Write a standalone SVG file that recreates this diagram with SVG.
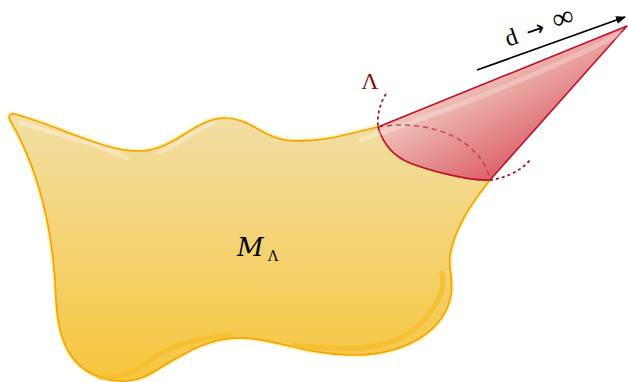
<svg xmlns="http://www.w3.org/2000/svg" width="628" height="382" viewBox="0 0 628 382">
<defs>
<linearGradient id="gy" x1="0" y1="0" x2="0" y2="1" gradientUnits="objectBoundingBox">
<stop offset="0" stop-color="#f2dfa6"/>
<stop offset="1" stop-color="#f6c63e"/>
</linearGradient>
<linearGradient id="gr" x1="450" y1="95" x2="500" y2="185" gradientUnits="userSpaceOnUse">
<stop offset="0" stop-color="#eec0b6"/>
<stop offset="1" stop-color="#db5864"/>
</linearGradient>
<marker id="ah" markerWidth="10" markerHeight="8" refX="9" refY="4" orient="auto" markerUnits="userSpaceOnUse">
<path d="M0,0 L10,4 L0,8 Z" fill="#000"/>
</marker>
<style>
.glow{fill:none;stroke:#fff3a8;stroke-width:5;stroke-linejoin:round;opacity:0.8}
.blob{fill:url(#gy);stroke:#f5a100;stroke-width:1.6;stroke-linejoin:round}
.hlw{fill:none;stroke:#ffffff;stroke-width:4;stroke-linecap:round;opacity:0.3}
.hly{fill:none;stroke:#f5bd2a;stroke-width:5;stroke-linecap:round;opacity:0.8}
.cone{fill:url(#gr);stroke:#c0122c;stroke-width:1.6;stroke-linejoin:round}
.dot{fill:none;stroke:#a8102a;stroke-width:1.8;stroke-dasharray:3,3}
.dash{fill:none;stroke:#b5283e;stroke-width:1.4;stroke-dasharray:5,4;opacity:0.8}
.lbl{font-family:"DejaVu Serif","Liberation Serif",serif}
.lbl2{font-family:"Liberation Serif","DejaVu Serif",serif}
</style>
</defs>
<g id="manifold">
<path class="glow" d="M 14,114 C 60,126 105,152 140,151 C 175,150 195,118 225,118 C 250,118 262,137 285,140 C 320,144 350,133 378,127 M 490,180 C 470,205 455,228 450,255 C 448,270 455,285 450,300 C 440,335 400,356 350,355 C 300,354 275,338 240,338 C 210,338 190,350 160,368 C 145,378 130,384 110,380 C 70,372 58,340 56,300 C 54,240 42,175 10,120 C 8,116 10,113 14,114"/>
<path class="blob" d="M 14,114 C 60,126 105,152 140,151 C 175,150 195,118 225,118 C 250,118 262,137 285,140 C 320,144 350,133 378,127 C 382,140 390,155 410,163 C 430,171 470,181 490,180 C 470,205 455,228 450,255 C 448,270 455,285 450,300 C 440,335 400,356 350,355 C 300,354 275,338 240,338 C 210,338 190,350 160,368 C 145,378 130,384 110,380 C 70,372 58,340 56,300 C 54,240 42,175 10,120 C 8,116 10,113 14,114 Z"/>
<path class="hlw" d="M 20,123 C 60,135 100,145 127,158"/>
<path class="hlw" d="M 160,152 C 180,145 195,128 213,123"/>
<path class="hly" d="M 100,377 C 125,377 140,370 150,360 C 165,350 175,345 187,343 C 205,338 220,336 230,335"/>
<path class="hly" d="M 293,345 C 320,348 340,349 360,348 C 395,346 420,330 435,305 C 443,292 444,283 442,273"/>
<text class="lbl" x="237" y="256" font-size="26" font-style="italic">M</text>
<text class="lbl" x="268" y="261" font-size="14">Λ</text>
</g>
<g id="cone">
<path class="cone" d="M 378,127 L 627,26 L 490,180 C 470,181 430,171 410,163 C 390,155 382,140 378,127 Z"/>
<path class="hlw" d="M 360,140 C 450,110 540,75 620,34" style="opacity:0.25;stroke-width:5"/>
<path class="dash" d="M 378,127 C 430,118 482,140 490,180"/>
<text class="lbl2" x="370" y="89" font-size="24" fill="#8b0a14" text-anchor="middle">Λ</text>
</g>
<g id="connectors">
<path class="dot" d="M 386,94 C 380,103 377,115 378,127"/>
<path class="dot" d="M 490,180 C 505,178 520,172 530,160"/>
<line x1="477" y1="70" x2="625" y2="17" stroke="#000" stroke-width="1.8" marker-end="url(#ah)"/>
<text class="lbl2" x="542" y="35" font-size="24" text-anchor="middle" word-spacing="4" transform="rotate(-19 542 35)">d <tspan font-family="DejaVu Sans" font-size="22">→</tspan> <tspan font-size="30">∞</tspan></text>
</g>
</svg>
